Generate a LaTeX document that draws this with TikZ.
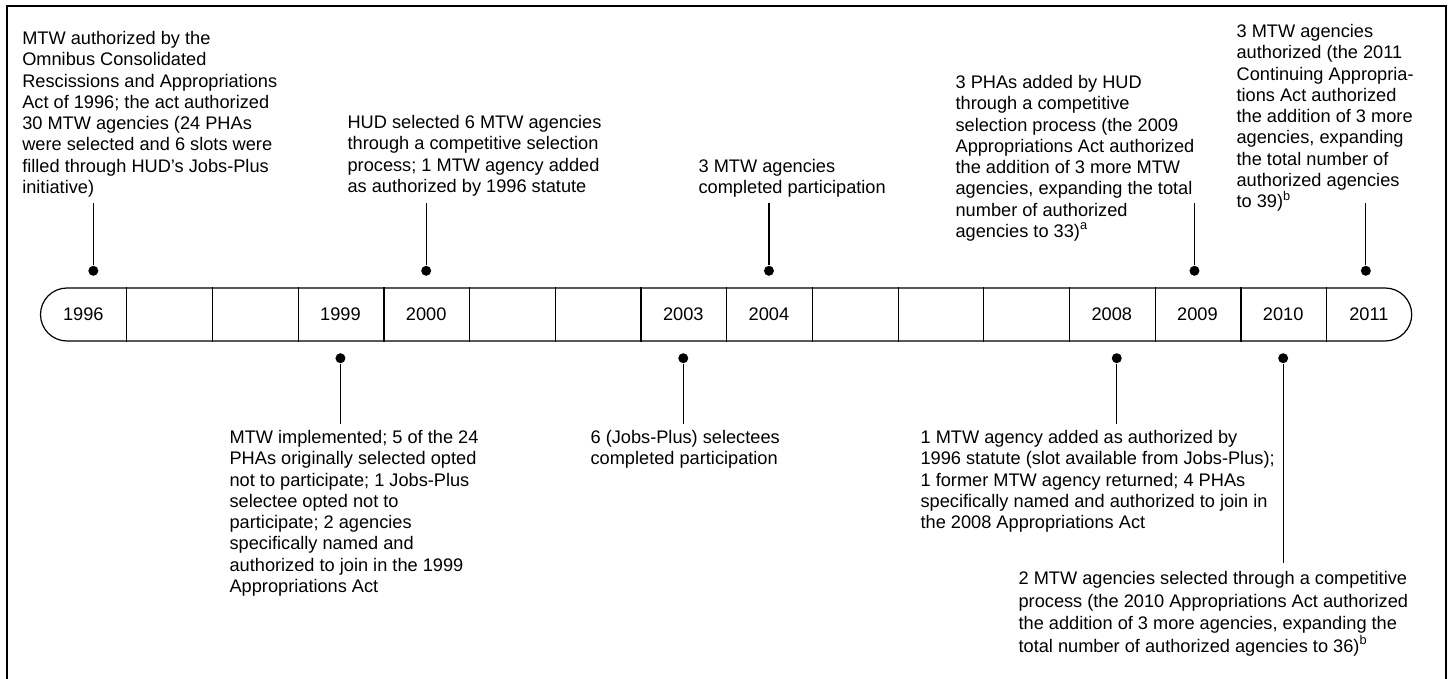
\documentclass[tikz,border=0pt]{standalone}
\usepackage{fontspec}
\setmainfont{Liberation Sans}
\usetikzlibrary{positioning}

\begin{document}
\begin{tikzpicture}[x = 0.5pt, y = -0.5pt,
  line width = 0.6pt,
  font = \fontsize{9.1}{10.65}\selectfont,
  yr/.style = {minimum width = 42.85pt, minimum height = 26.5pt, inner sep = 0pt},
  dot/.style = {circle, fill, inner sep = 0pt, minimum size = 5pt},
  event/.style = {anchor = north west, align = left, inner sep = 0pt}]
\useasboundingbox (0,0) rectangle (1449,679);
\draw[line width = 0.75pt] (7,690) -- (7,6) -- (1446,6) -- (1446,690);
\draw[rounded corners = 13.25pt] (40.5,288) rectangle (1411.7,341);
\foreach \yr [count = \i from 0] in {1996,{},{},1999,2000,{},{},2003,2004,{},{},{},2008,2009,2010,2011}
  \node[yr] (c\i) at ({40.5 + 85.7*(\i + 0.5)}, 314.5) {\yr};
\foreach \i in {0,...,14}
  \draw (c\i.north east) -- (c\i.south east);

\node[dot, above = 5.5pt of c0, xshift = 5pt] (d1996) {};
\node[dot, above = 5.5pt of c4] (d2000) {};
\node[dot, above = 5.5pt of c8] (d2004) {};
\node[dot, above = 5.5pt of c13, xshift = -1.5pt] (d2009) {};
\node[dot, above = 5.5pt of c15, xshift = -1.5pt] (d2011) {};
\node[dot, below = 5.5pt of c3] (d1999) {};
\node[dot, below = 5.5pt of c7] (d2003) {};
\node[dot, below = 5.5pt of c12, xshift = 2.5pt] (d2008) {};
\node[dot, below = 5.5pt of c14] (d2010) {};
\foreach \n in {1996,2000,2004,2009,2011}
  \coordinate[above = 31pt of d\n] (e\n);
\foreach \n in {1999,2003,2008}
  \coordinate[below = 30pt of d\n] (e\n);
\coordinate[below = 99.5pt of d2010] (e2010);
\foreach \n in {1996,2000,2004,2009,2011,1999,2003,2008,2010}
  \draw (d\n) -- (e\n);

\node[event] (t1996) at (21.7,30.7) {MTW authorized by the\\Omnibus Consolidated\\Rescissions and Appropriations\\Act of 1996; the act authorized\\30 MTW agencies (24 PHAs\\were selected and 6 slots were\\filled through HUD’s Jobs-Plus\\initiative)};
\node[event] (t2000) at (347,114.7) {HUD selected 6 MTW agencies\\through a competitive selection\\process; 1 MTW agency added\\as authorized by 1996 statute};
\node[event] (t2004) at (698,158.4) {3 MTW agencies\\completed participation};
\node[event] (t2009) at (955,74.7) {3 PHAs added by HUD\\through a competitive\\selection process (the 2009\\Appropriations Act authorized\\the addition of 3 more MTW\\agencies, expanding the total\\number of authorized\\agencies to 33)\textsuperscript{a}};
\node[event] (t2011) at (1236,23.7) {3 MTW agencies\\authorized (the 2011\\Continuing Appropria-\\tions Act authorized\\the addition of 3 more\\agencies, expanding\\the total number of\\authorized agencies\\to 39)\textsuperscript{b}};
\node[event] (t1999) at (229,429.7) {MTW implemented; 5 of the 24\\PHAs originally selected opted\\not to participate; 1 Jobs-Plus\\selectee opted not to\\participate; 2 agencies\\specifically named and\\authorized to join in the 1999\\Appropriations Act};
\node[event] (t2003) at (590,429.7) {6 (Jobs-Plus) selectees\\completed participation};
\node[event] (t2008) at (920,429.7) {1 MTW agency added as authorized by\\1996 statute (slot available from Jobs-Plus);\\1 former MTW agency returned; 4 PHAs\\specifically named and authorized to join in\\the 2008 Appropriations Act};
\node[event, font = \fontsize{9.1}{11.3}\selectfont] (t2010) at (1018,570.7) {2 MTW agencies selected through a competitive\\process (the 2010 Appropriations Act authorized\\the addition of 3 more agencies, expanding the\\total number of authorized agencies to 36)\textsuperscript{b}};
\end{tikzpicture}
\end{document}
